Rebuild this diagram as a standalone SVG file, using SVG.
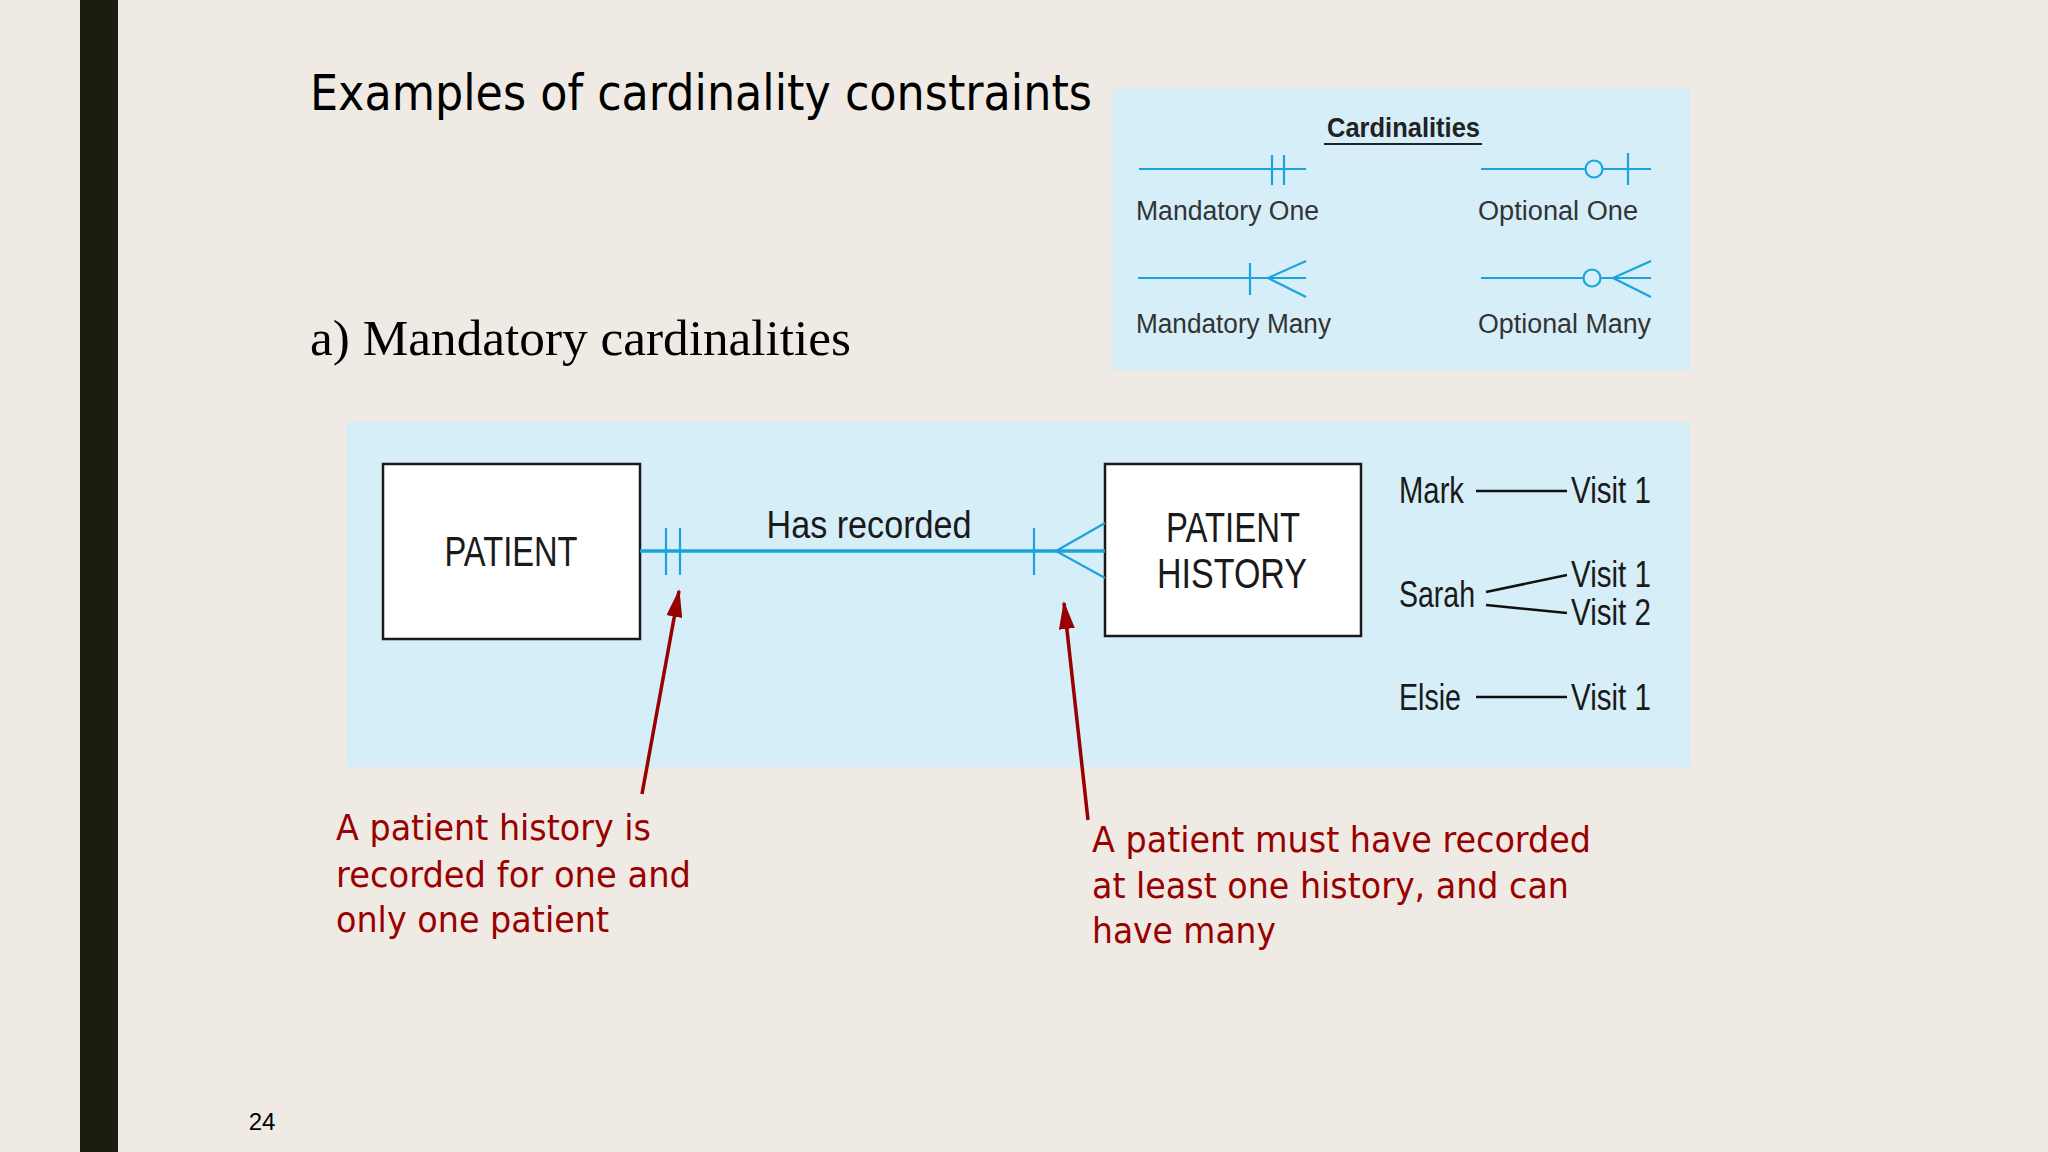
<svg xmlns="http://www.w3.org/2000/svg" width="2048" height="1152" viewBox="0 0 2048 1152">
  <defs>
    <style>
      .bg { fill: #efebe4; }
      .panel { fill: #d5eef8; }
      .entity { fill: #ffffff; stroke: #1a1a1a; stroke-width: 2.5; }
      .crow { stroke: #1aa3dc; stroke-width: 2.2; fill: none; }
      .rel { stroke: #1aa3dc; stroke-width: 3.5; fill: none; }
      .ex { stroke: #111; stroke-width: 2.5; fill: none; }
      .ent-text { font-family: "Liberation Sans Narrow", "Liberation Sans", Arial, sans-serif; font-size: 42px; fill: #1a1a1a; text-anchor: middle; }
      .ex-text { font-family: "Liberation Sans Narrow", "Liberation Sans", Arial, sans-serif; font-size: 36px; fill: #1a1a1a; }
      .leg-text { font-family: "Liberation Sans", Arial, sans-serif; font-size: 27px; fill: #333333; }
      .note { font-family: "DejaVu Sans", Verdana, sans-serif; font-size: 35px; fill: #990000; }
      .arrow { stroke: #990000; stroke-width: 3.5; fill: none; marker-end: url(#redArrow); }
    </style>
    <marker id="redArrow" markerUnits="userSpaceOnUse" markerWidth="28" markerHeight="16" refX="26" refY="8" orient="auto">
      <path d="M0,0 L28,8 L0,16 Z" fill="#990000"/>
    </marker>
  </defs>

  <rect class="bg" x="0" y="0" width="2048" height="1152"/>
  <rect x="80" y="0" width="38" height="1152" fill="#1d1c10"/>

  <text x="310" y="110" font-family="'DejaVu Sans', Verdana, sans-serif" font-size="50" fill="#000" textLength="782" lengthAdjust="spacingAndGlyphs">Examples of cardinality constraints</text>
  <text x="310" y="355" font-family="'Liberation Serif', 'Times New Roman', serif" font-size="50" fill="#000" textLength="541" lengthAdjust="spacingAndGlyphs">a) Mandatory cardinalities</text>
  <text x="262" y="1130" font-family="'Liberation Sans', Arial, sans-serif" font-size="24" fill="#000" text-anchor="middle">24</text>

  <!-- Legend -->
  <g id="legend">
    <rect class="panel" x="1113" y="88" width="577" height="282"/>
    <text x="1327" y="137" font-family="'Liberation Sans', Arial, sans-serif" font-size="28" font-weight="bold" fill="#222" textLength="153" lengthAdjust="spacingAndGlyphs">Cardinalities</text>
    <line x1="1324" y1="144" x2="1482" y2="144" stroke="#222" stroke-width="2"/>
    <!-- Mandatory One -->
    <line class="crow" x1="1139" y1="169" x2="1306" y2="169"/>
    <line class="crow" x1="1272" y1="155" x2="1272" y2="185"/>
    <line class="crow" x1="1284" y1="155" x2="1284" y2="185"/>
    <text class="leg-text" x="1136" y="220" textLength="183" lengthAdjust="spacingAndGlyphs">Mandatory One</text>
    <!-- Optional One -->
    <line class="crow" x1="1481" y1="169" x2="1586" y2="169"/>
    <circle class="crow" cx="1594" cy="169" r="8.5"/>
    <line class="crow" x1="1602" y1="169" x2="1651" y2="169"/>
    <line class="crow" x1="1628" y1="153" x2="1628" y2="185"/>
    <text class="leg-text" x="1478" y="220" textLength="160" lengthAdjust="spacingAndGlyphs">Optional One</text>
    <!-- Mandatory Many -->
    <line class="crow" x1="1138" y1="278" x2="1306" y2="278"/>
    <line class="crow" x1="1250" y1="263" x2="1250" y2="295"/>
    <path class="crow" d="M1306,261 L1268,278 L1306,297"/>
    <text class="leg-text" x="1136" y="333" textLength="195" lengthAdjust="spacingAndGlyphs">Mandatory Many</text>
    <!-- Optional Many -->
    <line class="crow" x1="1481" y1="278" x2="1584" y2="278"/>
    <circle class="crow" cx="1592" cy="278" r="8.5"/>
    <line class="crow" x1="1600" y1="278" x2="1651" y2="278"/>
    <path class="crow" d="M1651,261 L1613,278 L1651,297"/>
    <text class="leg-text" x="1478" y="333" textLength="173" lengthAdjust="spacingAndGlyphs">Optional Many</text>
  </g>

  <!-- Diagram panel -->
  <rect class="panel" x="346" y="422" width="1344" height="345"/>

  <g id="patient">
    <rect class="entity" x="383" y="464" width="257" height="175"/>
    <text class="ent-text" x="511" y="566" textLength="133" lengthAdjust="spacingAndGlyphs">PATIENT</text>
  </g>

  <g id="patient-history">
    <rect class="entity" x="1105" y="464" width="256" height="172"/>
    <text class="ent-text" x="1233" y="542" textLength="134" lengthAdjust="spacingAndGlyphs">PATIENT</text>
    <text class="ent-text" x="1232" y="588" textLength="150" lengthAdjust="spacingAndGlyphs">HISTORY</text>
  </g>

  <g id="examples">
    <text class="ex-text" x="1399" y="503" textLength="65" lengthAdjust="spacingAndGlyphs">Mark</text>
    <text class="ex-text" x="1571" y="503" textLength="80" lengthAdjust="spacingAndGlyphs">Visit 1</text>
    <text class="ex-text" x="1399" y="607" textLength="76" lengthAdjust="spacingAndGlyphs">Sarah</text>
    <text class="ex-text" x="1571" y="587" textLength="80" lengthAdjust="spacingAndGlyphs">Visit 1</text>
    <text class="ex-text" x="1571" y="625" textLength="80" lengthAdjust="spacingAndGlyphs">Visit 2</text>
    <text class="ex-text" x="1399" y="710" textLength="62" lengthAdjust="spacingAndGlyphs">Elsie</text>
    <text class="ex-text" x="1571" y="710" textLength="80" lengthAdjust="spacingAndGlyphs">Visit 1</text>
  </g>

  <g id="notes">
    <text class="note" x="336" y="840" textLength="315" lengthAdjust="spacingAndGlyphs">A patient history is</text>
    <text class="note" x="336" y="887" textLength="355" lengthAdjust="spacingAndGlyphs">recorded for one and</text>
    <text class="note" x="336" y="932" textLength="273" lengthAdjust="spacingAndGlyphs">only one patient</text>
    <text class="note" x="1092" y="852" textLength="499" lengthAdjust="spacingAndGlyphs">A patient must have recorded</text>
    <text class="note" x="1092" y="898" textLength="477" lengthAdjust="spacingAndGlyphs">at least one history, and can</text>
    <text class="note" x="1092" y="943" textLength="184" lengthAdjust="spacingAndGlyphs">have many</text>
  </g>

  <g id="connectors">
    <!-- relationship -->
    <line class="rel" x1="640" y1="551" x2="1105" y2="551"/>
    <line class="crow" x1="666" y1="528" x2="666" y2="575"/>
    <line class="crow" x1="680" y1="528" x2="680" y2="575"/>
    <line class="crow" x1="1034" y1="528" x2="1034" y2="575"/>
    <path class="crow" d="M1105,523 L1056,551 L1105,578"/>
    <text x="869" y="538" font-family="'Liberation Sans Narrow', 'Liberation Sans', Arial, sans-serif" font-size="38" fill="#1a1a1a" text-anchor="middle" textLength="205" lengthAdjust="spacingAndGlyphs">Has recorded</text>
    <!-- examples lines -->
    <line class="ex" x1="1476" y1="491" x2="1567" y2="491"/>
    <line class="ex" x1="1486" y1="592" x2="1567" y2="575"/>
    <line class="ex" x1="1486" y1="605" x2="1567" y2="613"/>
    <line class="ex" x1="1476" y1="697" x2="1567" y2="697"/>
    <!-- red arrows -->
    <line class="arrow" x1="642" y1="794" x2="679" y2="591"/>
    <line class="arrow" x1="1088" y1="820" x2="1064" y2="603"/>
  </g>
</svg>
